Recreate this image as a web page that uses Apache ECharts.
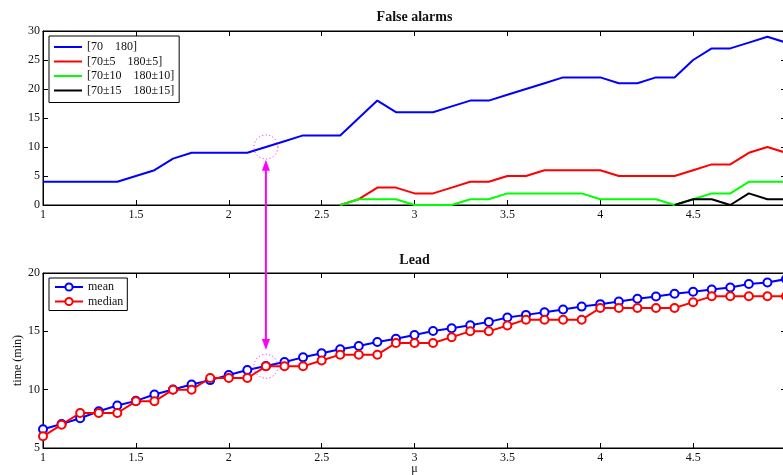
<!DOCTYPE html>
<html>
<head>
<meta charset="utf-8">
<script src="https://cdn.jsdelivr.net/npm/echarts@6/dist/echarts.min.js"></script>
<style>
html,body{margin:0;padding:0;background:#fff;}
#chart{width:783px;height:475px;}
</style>
</head>
<body>
<div id="chart"></div>
<script>
// ---- data ----
const mu = [1.0,1.1,1.2,1.3,1.4,1.5,1.6,1.7,1.8,1.9,2.0,2.1,2.2,2.3,2.4,2.5,2.6,2.7,2.8,2.9,3.0,3.1,3.2,3.3,3.4,3.5,3.6,3.7,3.8,3.9,4.0,4.1,4.2,4.3,4.4,4.5,4.6,4.7,4.8,4.9,5.0];
const faNames = ['[70    180]', '[70±5    180±5]', '[70±10    180±10]', '[70±15    180±15]'];
const fa0 = [4,4,4,4,4,5,6,8,9,9,9,9,10,11,12,12,12,15,18,16,16,16,17,18,18,19,20,21,22,22,22,21,21,22,22,25,27,27,28,29,28];
const fa5 = [null,null,null,null,null,null,null,null,null,null,null,null,null,null,null,null,0,1,3,3,2,2,3,4,4,5,5,6,6,6,6,5,5,5,5,6,7,7,9,10,9];
const fa10 = [null,null,null,null,null,null,null,null,null,null,null,null,null,null,null,null,0,1,1,1,0,0,0,1,1,2,2,2,2,2,1,1,1,1,0,1,2,2,4,4,4];
const fa15 = [null,null,null,null,null,null,null,null,null,null,null,null,null,null,null,null,null,null,null,null,null,null,null,null,null,null,null,null,null,null,null,null,null,null,0,1,1,0,2,1,1];
const leadNames = ['mean', 'median'];
const leadMean = [6.6,7.05,7.55,8.15,8.64,9.04,9.59,10.02,10.45,10.82,11.25,11.68,12.02,12.37,12.77,13.12,13.46,13.74,14.09,14.37,14.69,15.03,15.26,15.52,15.81,16.18,16.41,16.64,16.87,17.12,17.33,17.55,17.79,17.98,18.22,18.39,18.59,18.76,19.05,19.19,19.48];
const leadMedian = [6,7,8,8,8,9,9,10,10,11,11,11,12,12,12,12.5,13,13,13,14,14,14,14.5,15,15,15.5,16,16,16,16,17,17,17,17,17,17.5,18,18,18,18,18];
const titles = ['False alarms', 'Lead'];
// annotation: highlighted mu, circled values, arrow tips (in data units of each panel)
const highlightMu = 2.2;
const highlightVals = [10, 12];
const arrowTipVals = [7.8, 13.4];

// ---- chart ----
const FONT = 'Liberation Serif';
const faColors = ['#0000ff', '#ff0000', '#00ff00', '#000000'];
const leadColors = ['#0000ff', '#ff0000'];
const zip = (a) => mu.map((m, i) => [m, a[i]]);

function xAx(grid, pos, labels, name) {
  return {
    type: 'value', gridIndex: grid, position: pos, min: 1, max: 5, interval: 0.5,
    axisLine: {show: true, onZero: false, lineStyle: {color: '#000', width: 1}},
    axisTick: {show: true, inside: true, length: 5, lineStyle: {color: '#000'}},
    axisLabel: {show: labels, color: '#111', fontFamily: FONT, fontSize: 12, margin: 4},
    splitLine: {show: false},
    name: name || '', nameLocation: 'middle', nameGap: 15, nameMoveOverlap: false,
    nameTextStyle: {color: '#111', fontFamily: FONT, fontSize: 12}
  };
}
function yAx(grid, pos, labels, min, max, name) {
  return {
    type: 'value', gridIndex: grid, position: pos, min: min, max: max, interval: 5,
    axisLine: {show: true, onZero: false, lineStyle: {color: '#000', width: 1}},
    axisTick: {show: true, inside: true, length: 5, lineStyle: {color: '#000'}},
    axisLabel: {show: labels, color: '#111', fontFamily: FONT, fontSize: 12, margin: 3},
    splitLine: {show: false},
    name: name || '', nameLocation: 'middle', nameGap: 19, nameMoveOverlap: false,
    nameTextStyle: {color: '#111', fontFamily: FONT, fontSize: 12}
  };
}

const series = [];
[fa0, fa5, fa10, fa15].forEach((arr, i) => {
  series.push({
    name: faNames[i], type: 'line', xAxisIndex: 0, yAxisIndex: 0,
    data: zip(arr), symbol: 'none', connectNulls: false,
    lineStyle: {color: faColors[i], width: 2}, itemStyle: {color: faColors[i]}
  });
});
[leadMean, leadMedian].forEach((arr, i) => {
  series.push({
    name: leadNames[i], type: 'line', xAxisIndex: 2, yAxisIndex: 2,
    data: zip(arr), symbol: 'emptyCircle', symbolSize: 8, showAllSymbol: true,
    lineStyle: {color: leadColors[i], width: 2},
    itemStyle: {color: leadColors[i], borderColor: leadColors[i], borderWidth: 1.8}
  });
});

const legendCommon = {
  orient: 'vertical', backgroundColor: '#fff', borderColor: '#000', borderWidth: 1,
  itemWidth: 28, itemGap: 2.5,
  textStyle: {fontFamily: FONT, fontSize: 12, color: '#111'}
};

const gridCommon = {show: true, borderColor: '#000', borderWidth: 1, backgroundColor: 'transparent',
  containLabel: false, outerBoundsMode: 'none'};

const chart = echarts.init(document.getElementById('chart'), null, {renderer: 'canvas'});
chart.setOption({
  animation: false,
  backgroundColor: '#fff',
  grid: [
    Object.assign({left: 43, top: 31, width: 743, height: 174}, gridCommon),
    Object.assign({left: 43, top: 273, width: 743, height: 175}, gridCommon)
  ],
  xAxis: [
    xAx(0, 'bottom', true),
    xAx(0, 'top', false),
    xAx(1, 'bottom', true, 'μ'),
    xAx(1, 'top', false)
  ],
  yAxis: [
    yAx(0, 'left', true, 0, 30),
    yAx(0, 'right', false, 0, 30),
    yAx(1, 'left', true, 5, 20, 'time (min)'),
    yAx(1, 'right', false, 5, 20)
  ],
  legend: [
    Object.assign({}, legendCommon, {data: faNames, left: 49, top: 36, padding: [5, 5, 6, 5],
      icon: 'rect', itemHeight: 2}),
    Object.assign({}, legendCommon, {data: leadNames, left: 49, top: 278, itemHeight: 9, padding: [3, 4, 3, 5]})
  ],
  series: series
});

// titles and annotation graphics, positioned from the plot's data coordinates
const midX = chart.convertToPixel({seriesIndex: 0}, [3, 0])[0];
const topEdge = chart.convertToPixel({seriesIndex: 0}, [3, 30])[1];
const botEdge = chart.convertToPixel({seriesIndex: 4}, [3, 20])[1];
const cTop = chart.convertToPixel({seriesIndex: 0}, [highlightMu, highlightVals[0]]);
const cBot = chart.convertToPixel({seriesIndex: 4}, [highlightMu, highlightVals[1]]);
const aTop = chart.convertToPixel({seriesIndex: 0}, [highlightMu, arrowTipVals[0]]);
const aBot = chart.convertToPixel({seriesIndex: 4}, [highlightMu, arrowTipVals[1]]);
const MAG = '#ff00ff';
const headLen = 11, headHalf = 4;
const x0 = aTop[0];
const titleFont = 'bold 14px "Liberation Serif"';
chart.setOption({
  graphic: [
    {type: 'text', style: {text: titles[0], x: midX, y: topEdge - 7, textAlign: 'center', textVerticalAlign: 'bottom', font: titleFont, fill: '#111'}},
    {type: 'text', style: {text: titles[1], x: midX, y: botEdge - 6, textAlign: 'center', textVerticalAlign: 'bottom', font: titleFont, fill: '#111'}},
    {type: 'line', shape: {x1: x0, y1: aTop[1] + headLen - 1, x2: x0, y2: aBot[1] - headLen + 1},
     style: {stroke: MAG, lineWidth: 2}, z: 100},
    {type: 'polygon', shape: {points: [[x0, aTop[1]], [x0 - headHalf, aTop[1] + headLen], [x0 + headHalf, aTop[1] + headLen]]},
     style: {fill: MAG}, z: 100},
    {type: 'polygon', shape: {points: [[x0, aBot[1]], [x0 - headHalf, aBot[1] - headLen], [x0 + headHalf, aBot[1] - headLen]]},
     style: {fill: MAG}, z: 100},
    {type: 'circle', shape: {cx: cTop[0], cy: cTop[1], r: 12},
     style: {fill: 'none', stroke: MAG, lineWidth: 1, lineDash: [1, 2.5]}, z: 100},
    {type: 'circle', shape: {cx: cBot[0], cy: cBot[1], r: 12},
     style: {fill: 'none', stroke: MAG, lineWidth: 1, lineDash: [1, 2.5]}, z: 100}
  ]
});
</script>
</body>
</html>
